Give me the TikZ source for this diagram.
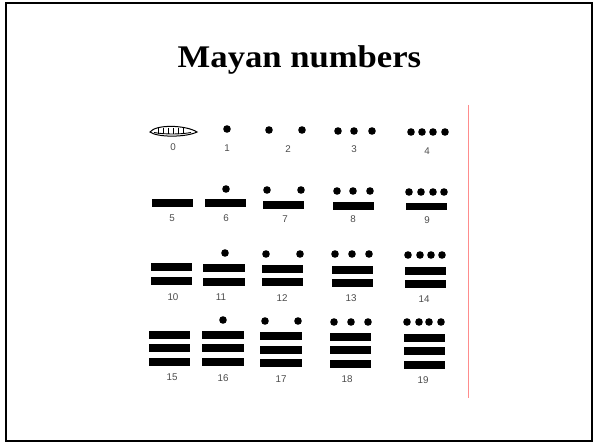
\documentclass[tikz,border=0pt]{standalone}
\usepackage{fontspec}
\setmainfont{Liberation Serif}
\newfontfamily\titlefont[FakeStretch=1.1]{Liberation Serif}
\newfontfamily\numfont{Liberation Sans}
\tikzset{
  bar/.style={fill=black},
  dotm/.style={fill=black},
  numlbl/.style={font=\numfont\fontsize{9.8}{10}\selectfont, text=black!70, inner sep=0pt},
}
\newcommand{\mbar}[3]{\fill[bar] (#1,#3) rectangle (#2,#3+7.5);}
\newcommand{\mdot}[2]{\fill[dotm] (#1,#2) circle (3.8);}
\begin{document}
\begin{tikzpicture}[x=1pt,y=-1pt]
\useasboundingbox (0,0) rectangle (595,444);
\fill[white] (0,0) rectangle (595,444);
\draw[line width=2.5pt] (6,3) rectangle (592,441);
\node[font=\titlefont\bfseries\fontsize{31.5}{34}\selectfont, anchor=base, inner sep=0pt] (title) at (299.5,68) {Mayan numbers};
\draw[red!45, line width=0.8pt] (468,105) -- (468,398);

% 0 shell
\draw[line width=1pt] (150,132) .. controls (156,124) and (186,125) .. (197,132) .. controls (186,137.5) and (157,137.5) .. (150,132) -- cycle;
\draw[line width=0.9pt] (154,132.5) .. controls (165,134.5) and (180,134.5) .. (191,132.5);
\foreach \x in {158,163,168,173,178,183} \draw[line width=0.9pt] (\x,127.5) -- (\x,133.5);

% row 1
\mdot{227}{129}
\mdot{269}{130} \mdot{302}{130}
\mdot{338}{131} \mdot{354}{131} \mdot{372}{131}
\mdot{411}{132} \mdot{422}{132} \mdot{433}{132} \mdot{445}{132}
\node[numlbl] (n0) at (173,147) {0};
\node[numlbl] (n1) at (227,148) {1};
\node[numlbl] (n2) at (288,149) {2};
\node[numlbl] (n3) at (354,149) {3};
\node[numlbl] (n4) at (427,151) {4};

% row 2
\mbar{152}{193}{199}
\mbar{205}{246}{199} \mdot{226}{189}
\mbar{263}{304}{201} \mdot{267}{190} \mdot{301}{190}
\mbar{333}{374}{202} \mdot{337}{191} \mdot{353}{191} \mdot{370}{191}
\mbar{406}{447}{202.5} \mdot{409}{192} \mdot{421}{192} \mdot{433}{192} \mdot{444}{192}
\node[numlbl] (n5) at (172,218) {5};
\node[numlbl] (n6) at (226,218) {6};
\node[numlbl] (n7) at (285,219) {7};
\node[numlbl] (n8) at (353,219) {8};
\node[numlbl] (n9) at (427,220) {9};

% row 3
\mbar{151}{192}{263} \mbar{151}{192}{277}
\mbar{203}{245}{264} \mbar{203}{245}{278} \mdot{225}{253}
\mbar{262}{303}{265} \mbar{262}{303}{278} \mdot{266}{254} \mdot{300}{254}
\mbar{332}{373}{266} \mbar{332}{373}{279} \mdot{335}{254} \mdot{352}{254} \mdot{369}{254}
\mbar{405}{446}{267} \mbar{405}{446}{280} \mdot{408}{255} \mdot{420}{255} \mdot{431}{255} \mdot{442}{255}
\node[numlbl] (n10) at (173,297) {10};
\node[numlbl] (n11) at (221,297) {11};
\node[numlbl] (n12) at (282,298) {12};
\node[numlbl] (n13) at (351,298) {13};
\node[numlbl] (n14) at (424,299) {14};

% row 4
\mbar{149}{190}{331} \mbar{149}{190}{344} \mbar{149}{190}{358}
\mbar{202}{244}{331} \mbar{202}{244}{344} \mbar{202}{244}{358} \mdot{223}{320}
\mbar{260}{302}{332} \mbar{260}{302}{346} \mbar{260}{302}{359} \mdot{265}{321} \mdot{298}{321}
\mbar{330}{371}{333} \mbar{330}{371}{346} \mbar{330}{371}{360} \mdot{334}{322} \mdot{351}{322} \mdot{368}{322}
\mbar{404}{445}{334} \mbar{404}{445}{347} \mbar{404}{445}{361} \mdot{407}{322} \mdot{419}{322} \mdot{429}{322} \mdot{441}{322}
\node[numlbl] (n15) at (172,377) {15};
\node[numlbl] (n16) at (223,378) {16};
\node[numlbl] (n17) at (281,379) {17};
\node[numlbl] (n18) at (347,379) {18};
\node[numlbl] (n19) at (423,380) {19};
\end{tikzpicture}
\end{document}
